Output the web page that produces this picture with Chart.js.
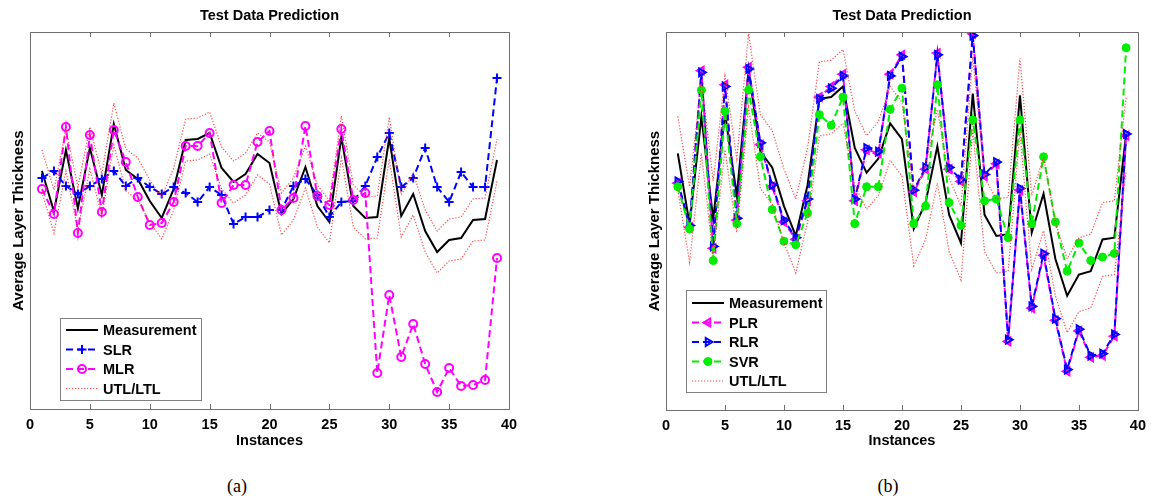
<!DOCTYPE html>
<html>
<head>
<meta charset="utf-8">
<script src="https://cdn.jsdelivr.net/npm/chart.js@4.4.1/dist/chart.umd.min.js"></script>
<style>
html, body { margin: 0; padding: 0; background: #fff; }
#wrap { position: relative; width: 1153px; height: 498px; overflow: hidden; }
canvas { position: absolute; top: 0; }
#ca { left: 0; }
#cb { left: 636px; }
.cap { position: absolute; top: 475px; font-family: "Liberation Serif", "DejaVu Serif", serif; font-size: 18px; transform: translateX(-50%); line-height: 22px; }
</style>
</head>
<body>
<div id="wrap">
  <canvas id="ca" width="576" height="460"></canvas>
  <canvas id="cb" width="517" height="460"></canvas>
  <div class="cap" style="left:237px">(a)</div>
  <div class="cap" style="left:888px">(b)</div>
</div>
<script>
var instances = [1,2,3,4,5,6,7,8,9,10,11,12,13,14,15,16,17,18,19,20,21,22,23,24,25,26,27,28,29,30,31,32,33,34,35,36,37,38,39];
var xTicks = [0, 5, 10, 15, 20, 25, 30, 35, 40];

var measurement = [238,197.5,259,200.5,261,214,285,239,230,208,191,220,269,270,276,241,227,235,255,246,195,210,242,203,187,272,203,191,192,271,193,215,178,157,169,171,189,190,249];
var utl = [259,219,280,222,282,235,306,260,251,229,212,241,290,291,297,262,248,256,276,267,216,231,263,224,208,293,224,212,213,292,214,236,199,178,190,192,210,211,270];
var ltl = [217,176,238,179,240,193,264,218,209,187,170,199,248,249,255,220,206,214,234,225,174,189,221,182,166,251,182,170,171,250,172,194,157,136,148,150,168,169,228];

var slr = [231,238,223,215,223,230,238,223,231,222,215,222,216,207,222,214,185,192,192,199,199,223,230,214,192,207,208,223,252,276,222,231,261,222,207,237,222,222,331];
var mlr = [220,195,282,176,274,197,279,247,212,184,186,207,263,263,276,206,224,224,267,278,199,211,283,213,204,280,209,216,36,114,52,85,45,17,41,23,24,29,151];

var plr = [221,196,285,184,277,200,287,243,219,199,189,211,270,276,283,211,240,238,283,294,216,229,295,229,222,306,225,232,131,217,150,180,143,114,137,122,123,134,248];
var rlr = [222,197,284,185,276,201,286,244,220,200,190,212,269,275,282,212,241,239,282,293,217,230,294,230,223,305,226,233,132,218,151,181,144,115,138,123,124,135,249];
var svr = [219,195,274,177,262,198,274,236,206,188,186,204,260,254,270,198,219,219,263,275,198,208,277,210,197,257,211,212,190,257,198,236,199,171,187,177,179,181,298];

var FONT = "'Liberation Sans', Arial, Helvetica, sans-serif";
var FSIZE = 14.5;

function pts(vals) {
    return vals.map(function (v, i) { return { x: instances[i], y: v }; });
}

function lineSet(label, vals, color, dash, width, order, extra) {
    var ds = {
        label: label, data: pts(vals), borderColor: color, backgroundColor: color,
        borderWidth: width, borderDash: dash, pointRadius: 0, tension: 0, fill: false, order: order
    };
    for (var k in extra) ds[k] = extra[k];
    return ds;
}

var boxLegend = {
    id: 'boxLegend',
    afterDraw: function (chart, args, opts) {
        var ctx = chart.ctx;
        var sets = chart.data.datasets.filter(function (d) { return !d.noLegend; });
        ctx.save();
        ctx.fillStyle = '#fff';
        ctx.fillRect(opts.x, opts.y, opts.w, opts.h);
        ctx.strokeStyle = '#808080';
        ctx.lineWidth = 1;
        ctx.strokeRect(opts.x + 0.5, opts.y + 0.5, opts.w, opts.h);
        ctx.font = 'bold ' + FSIZE + 'px ' + FONT;
        ctx.textBaseline = 'middle';
        sets.forEach(function (d, i) {
            var y = opts.y + opts.first + i * opts.row;
            var x0 = opts.x + 6;
            ctx.save();
            ctx.strokeStyle = d.borderColor;
            ctx.lineWidth = d.borderWidth;
            ctx.setLineDash(d.borderDash || []);
            ctx.beginPath();
            ctx.moveTo(x0, y);
            ctx.lineTo(x0 + 32, y);
            ctx.stroke();
            ctx.setLineDash([]);
            if (d.pointStyle && d.pointRadius > 0) {
                ctx.strokeStyle = d.pointBorderColor || d.borderColor;
                ctx.fillStyle = d.pointBackgroundColor || d.borderColor;
                ctx.lineWidth = d.pointBorderWidth || 1;
                Chart.helpers.drawPoint(ctx, {
                    pointStyle: d.pointStyle, rotation: d.pointRotation || 0,
                    radius: d.pointRadius, borderWidth: d.pointBorderWidth || 1
                }, x0 + 16, y);
            }
            ctx.restore();
            ctx.fillStyle = '#000';
            ctx.fillText(d.label, x0 + 37, y + 1);
        });
        ctx.restore();
    }
};

var frame = {
    id: 'frame',
    afterDatasetsDraw: function (chart) {
        var a = chart.chartArea, ctx = chart.ctx, xs = chart.scales.x;
        ctx.save();
        ctx.strokeStyle = '#707070';
        ctx.lineWidth = 1;
        ctx.strokeRect(Math.round(a.left) + 0.5, Math.round(a.top) + 0.5, Math.round(a.right - a.left), Math.round(a.bottom - a.top));
        ctx.beginPath();
        xTicks.forEach(function (t) {
            var px = Math.round(xs.getPixelForValue(t)) + 0.5;
            ctx.moveTo(px, a.bottom); ctx.lineTo(px, a.bottom - 5);
            ctx.moveTo(px, a.top); ctx.lineTo(px, a.top + 5);
        });
        ctx.stroke();
        ctx.restore();
    }
};

function makeChart(id, datasets, yMin, yMax, xHeight, padRight, legendOpts) {
    var bold = { family: FONT, size: FSIZE, weight: 'bold' };
    return new Chart(document.getElementById(id), {
        type: 'line',
        data: { datasets: datasets },
        options: {
            responsive: false,
            animation: false,
            layout: { padding: { left: 0, right: padRight, top: 0, bottom: 0 } },
            plugins: {
                legend: { display: false },
                tooltip: { enabled: false },
                title: {
                    display: true, text: 'Test Data Prediction', color: '#000', fullSize: false,
                    font: bold, padding: { top: 7, bottom: 7.6 }
                },
                boxLegend: legendOpts
            },
            scales: {
                x: {
                    type: 'linear', min: 0, max: 40,
                    afterBuildTicks: function (s) { s.ticks = xTicks.map(function (v) { return { value: v }; }); },
                    afterFit: function (s) { s.height = xHeight; },
                    grid: { display: false, drawTicks: false },
                    border: { display: false },
                    ticks: { color: '#000', padding: 7, maxRotation: 0, font: bold },
                    title: { display: true, text: 'Instances', color: '#000', font: bold, padding: { top: 0, bottom: 10 } }
                },
                y: {
                    min: yMin, max: yMax,
                    afterFit: function (s) { s.width = 30; },
                    grid: { display: false, drawTicks: false },
                    border: { display: false },
                    ticks: { display: false },
                    title: { display: true, text: 'Average Layer Thickness', color: '#000', font: { family: FONT, size: 15, weight: 'bold' }, padding: { top: 10, bottom: 0 } }
                }
            }
        },
        plugins: [frame, boxLegend]
    });
}

var red = 'rgba(255,40,40,0.85)';
var dotted = [1.2, 1.8];
var dashed = [7, 4];

makeChart('ca', [
    lineSet('Measurement', measurement, '#000000', [], 2, 5, {}),
    lineSet('SLR', slr, '#0000ff', dashed, 2, 4, { pointStyle: 'cross', pointRadius: 4.5, pointBorderWidth: 2, pointBorderColor: '#0000ff' }),
    lineSet('MLR', mlr, '#ff00ff', dashed, 2, 3, { pointStyle: 'circle', pointRadius: 4, pointBorderWidth: 2, pointBorderColor: '#ff00ff', pointBackgroundColor: 'rgba(0,0,0,0)' }),
    lineSet('UTL/LTL', utl, red, dotted, 1.2, 2, {}),
    lineSet('UTL/LTL', ltl, red, dotted, 1.2, 1, { noLegend: true })
], 0, 377, 51, 67, { x: 60, y: 318, w: 141, h: 82, first: 12, row: 19.5 });

makeChart('cb', [
    lineSet('Measurement', measurement, '#000000', [], 2, 6, {}),
    lineSet('PLR', plr, '#ff00ff', dashed, 2, 5, { pointStyle: 'triangle', pointRotation: -90, pointRadius: 4.5, pointBorderWidth: 2, pointBorderColor: '#ff00ff', pointBackgroundColor: 'rgba(0,0,0,0)' }),
    lineSet('RLR', rlr, '#0000ff', dashed, 2, 4, { pointStyle: 'triangle', pointRotation: 90, pointRadius: 4.5, pointBorderWidth: 2, pointBorderColor: '#0000ff', pointBackgroundColor: 'rgba(0,0,0,0)' }),
    lineSet('SVR', svr, '#00ee00', dashed, 2, 3, { pointStyle: 'circle', pointRadius: 4, pointBorderWidth: 1, pointBorderColor: '#00ee00', pointBackgroundColor: '#00ee00' }),
    lineSet('UTL/LTL', utl, red, dotted, 1.2, 2, {}),
    lineSet('UTL/LTL', ltl, red, dotted, 1.2, 1, { noLegend: true })
], 92, 307, 50, 8, { x: 50, y: 290, w: 140, h: 102, first: 13, row: 19.5 });
</script>
</body>
</html>
